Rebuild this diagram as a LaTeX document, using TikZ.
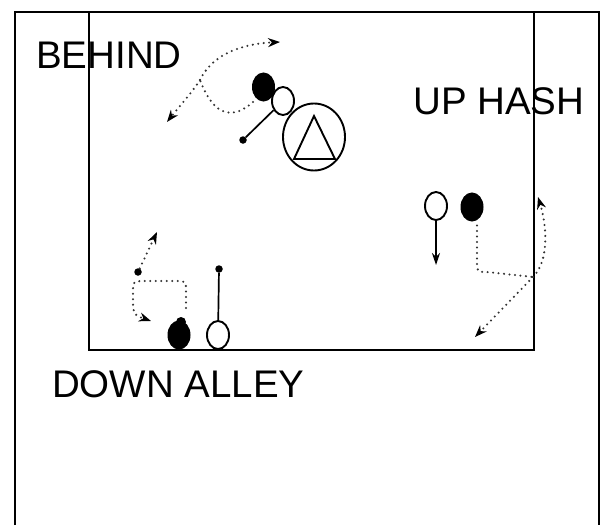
\documentclass[tikz,border=0pt]{standalone}
\usepackage{fontspec}
\setmainfont{Liberation Sans}
\usetikzlibrary{shapes.geometric,arrows.meta}
\begin{document}
\begin{tikzpicture}[x=1pt,y=-1pt,
 lbl/.style={anchor=base west,inner sep=0,font=\fontsize{38.5}{40}\selectfont},
 offp/.style={ellipse,draw,line width=1.9pt,minimum width=22pt,minimum height=28pt,inner sep=0},
 defp/.style={ellipse,draw,fill=black,line width=1pt,minimum width=22pt,minimum height=28pt,inner sep=0},
 bump/.style={circle,fill=black,inner sep=0,minimum size=10pt},
 dotp/.style={circle,fill=black,inner sep=0,minimum size=7.5pt},
 track/.style={line width=2.3pt,line cap=round,dash pattern=on 0pt off 5.5pt,draw=black!80},
 route/.style={track,-{Stealth[length=12pt,width=9pt,black]}},
 routeopen/.style={track,-{Stealth[open,length=12pt,width=9pt,black]}},
 run/.style={line width=1.7pt,-{Stealth[length=12pt,width=8pt]}},
 link/.style={line width=1.7pt},
 field/.style={line width=2pt}]
\useasboundingbox (0,0) rectangle (604,525);
\fill[white] (0,0) rectangle (604,525);
\draw[field] (15,525) -- (15,12) -- (599,12) -- (599,525);
\draw[field] (89,12) rectangle (534,350);

\node[lbl] (behind) at (36,68) {BEHIND};
\node[lbl] (uphash) at (413,114) {UP HASH};
\node[lbl] (downalley) at (52,397) {DOWN ALLEY};

% top group
\node[defp] (d1) at (263.5,87) {};
\node[offp] (o1) at (283,101) {};
\node[ellipse,draw,line width=1.9pt,minimum width=62pt,minimum height=67pt,inner sep=0] (qb) at (314,137) {};
\draw[line width=1.9pt,line join=miter] (314,116) -- (294,159) -- (335,159) -- cycle;
\node[dotp] (p1) at (243,140) {};
\draw[link] (o1) -- (p1);
\coordinate (f1) at (200,80);
\coordinate (a1) at (280,42);
\coordinate (b1) at (167,122);
\draw[track] (253,102) .. controls (235,118) and (215,120) .. (f1);
\draw[route] (f1) .. controls (212,55) and (240,44) .. (a1);
\draw[route] (f1) .. controls (190,95) and (178,108) .. (b1);

% right group
\node[offp] (o2) at (436,206) {};
\node[defp] (d2) at (472,207) {};
\coordinate (e2) at (436,265);
\draw[run] (o2.south) -- (e2);
\coordinate (f2) at (533,277);
\coordinate (a2) at (538,197);
\coordinate (b2) at (475,337);
\draw[track] ([xshift=5pt,yshift=-4pt]d2.south) -- (477,262) .. controls (477,272) .. (487,272) -- (f2);
\draw[route] (f2) .. controls (548,262) and (548,230) .. (a2);
\draw[route] (f2) -- (b2);

% bottom-left group
\node[defp] (d3) at (179,335) {};
\node[bump] (d3b) at (181,322) {};
\node[offp] (o3) at (218,335) {};
\node[dotp] (p3) at (219,269) {};
\draw[link] (o3) -- (p3);
\node[dotp] (p4) at (138,272) {};
\coordinate (a3) at (157,232);
\coordinate (b3) at (151,321);
\draw[routeopen] (p4) -- (a3);
\draw[routeopen] (186,308) -- (186,292) .. controls (186,281) .. (176,281) -- (146,281) .. controls (133,281) .. (133,293) -- (133,304) .. controls (134,315) .. (b3);
\end{tikzpicture}
\end{document}
